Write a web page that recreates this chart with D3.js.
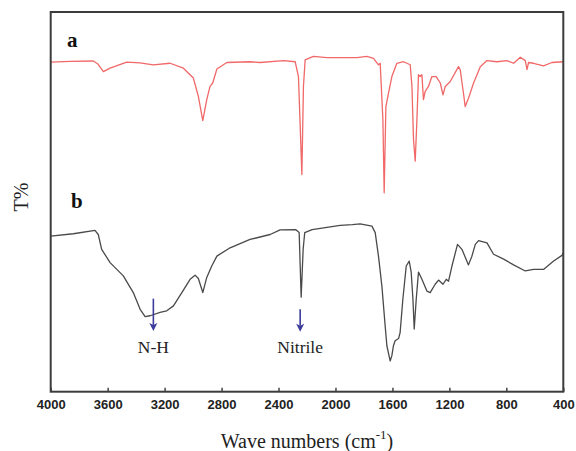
<!DOCTYPE html>
<html>
<head>
<meta charset="utf-8">
<style>
  body { margin: 0; background: #fff; }
</style>
</head>
<body>
<svg id="svg"></svg>
<script src="https://d3js.org/d3.v7.min.js"></script>
<script>
  // spectrum a (red): [wavenumber, T]
  var specA = [
    [4000, 86.8], [3864, 87.0], [3701, 87.1], [3668, 86.3], [3630, 84.3], [3583, 85.2],
    [3466, 86.8], [3373, 86.6], [3279, 86.1], [3162, 86.5], [3068, 85.2], [2998, 82.6],
    [2963, 77.8], [2932, 71.4], [2904, 76.9], [2881, 80.4], [2862, 81.3], [2833, 85.0],
    [2763, 86.7], [2600, 86.9], [2529, 86.7], [2365, 87.2], [2283, 86.9], [2260, 83.0],
    [2236, 57.2], [2225, 80.4], [2213, 87.4], [2155, 88.3], [2061, 88.0], [1850, 88.0],
    [1780, 88.3], [1733, 87.8], [1698, 86.1], [1686, 86.5], [1667, 71.6], [1658, 52.4],
    [1646, 75.1], [1628, 78.6], [1604, 83.0], [1569, 86.5], [1522, 86.9], [1475, 86.1],
    [1463, 80.4], [1452, 66.4], [1440, 60.7], [1428, 71.6], [1417, 83.5], [1405, 83.0],
    [1393, 83.5], [1382, 76.9], [1370, 79.1], [1347, 80.4], [1323, 83.0], [1293, 83.0],
    [1264, 81.3], [1245, 78.2], [1229, 80.4], [1194, 81.7], [1136, 85.6], [1124, 84.8],
    [1101, 78.6], [1089, 75.1], [1066, 77.3], [1030, 81.3], [983, 85.6], [936, 87.2],
    [866, 86.9], [796, 87.2], [749, 86.5], [702, 88.1], [667, 87.2], [655, 84.8],
    [644, 86.7], [609, 86.5], [539, 85.8], [480, 86.7], [400, 86.9]
  ];

  // spectrum b (gray)
  var specB = [
    [4000, 41.0], [3841, 41.6], [3689, 42.5], [3666, 41.4], [3642, 37.5], [3583, 34.0],
    [3490, 30.5], [3420, 26.1], [3372, 21.7], [3337, 19.8], [3302, 20.0], [3232, 20.9],
    [3185, 21.3], [3138, 22.6], [3079, 26.1], [3021, 29.6], [2986, 30.7], [2963, 29.8],
    [2939, 27.0], [2932, 26.1], [2904, 30.1], [2869, 33.1], [2833, 35.7], [2740, 37.9],
    [2600, 40.1], [2459, 41.4], [2389, 42.6], [2280, 42.7], [2255, 41.9], [2241, 24.9],
    [2227, 37.5], [2216, 41.9], [2164, 42.7], [1967, 43.8], [1881, 44.0], [1827, 44.2],
    [1744, 43.6], [1721, 41.9], [1698, 35.7], [1674, 27.8], [1651, 17.3], [1639, 12.1],
    [1616, 8.1], [1604, 9.5], [1593, 12.1], [1581, 13.4], [1557, 14.0], [1546, 15.6],
    [1527, 24.3], [1503, 33.1], [1482, 34.4], [1468, 31.4], [1456, 24.3], [1447, 16.5],
    [1433, 24.3], [1417, 31.5], [1393, 29.6], [1358, 26.5], [1335, 26.1], [1300, 28.3],
    [1276, 29.4], [1245, 28.3], [1222, 29.6], [1206, 29.1], [1182, 33.1], [1143, 38.8],
    [1112, 37.5], [1066, 33.4], [1042, 35.7], [1018, 38.8], [995, 39.8], [936, 39.2],
    [890, 36.2], [819, 34.9], [749, 33.4], [667, 31.8], [609, 32.2], [539, 32.2],
    [468, 34.4], [409, 35.9], [400, 36.6]
  ];

  var xTicks = [4000, 3600, 3200, 2800, 2400, 2000, 1600, 1200, 800, 400];

  // annotations: label, wavenumber, arrow top / tip (T units)
  var notes = [
    { label: "N-H", wn: 3279, top: 24.5, tip: 16.0 },
    { label: "Nitrile", wn: 2248, top: 21.7, tip: 15.8 }
  ];

  var width = 576,
    height = 451;
  var plotLeft = 50.7,
    plotRight = 563.3,
    plotTop = 12,
    plotBottom = 391.7;

  var svg = d3.select("#svg").attr("width", width).attr("height", height);

  var x = d3.scaleLinear().domain([4000, 400]).range([plotLeft, plotRight]);
  var y = d3.scaleLinear().domain([0, 100]).range([plotBottom, plotTop]);

  var line = d3
    .line()
    .x(function (d) { return x(d[0]); })
    .y(function (d) { return y(d[1]); });

  // spectra
  svg.append("path")
    .datum(specA)
    .attr("d", line)
    .attr("fill", "none")
    .attr("stroke", "#f06868")
    .attr("stroke-width", 1.3)
    .attr("stroke-linejoin", "round");

  svg.append("path")
    .datum(specB)
    .attr("d", line)
    .attr("fill", "none")
    .attr("stroke", "#4a4a4a")
    .attr("stroke-width", 1.3)
    .attr("stroke-linejoin", "round");

  // x axis, ticks pointing inward
  var xAxis = d3.axisBottom(x)
    .tickValues(xTicks)
    .tickFormat(d3.format("d"))
    .tickSizeInner(-4)
    .tickSizeOuter(0);
  var gx = svg.append("g")
    .attr("transform", "translate(0," + plotBottom + ")")
    .call(xAxis);
  gx.select(".domain").remove();
  gx.selectAll(".tick line").attr("stroke", "#444").attr("stroke-width", 1.5);
  gx.selectAll(".tick text")
    .attr("y", 17.3)
    .attr("dy", null)
    .attr("fill", "#222")
    .style("font-family", "Arial, 'Liberation Sans', sans-serif")
    .style("font-weight", "bold")
    .style("font-size", "13px");

  // frame
  svg.append("rect")
    .attr("x", plotLeft)
    .attr("y", plotTop)
    .attr("width", plotRight - plotLeft)
    .attr("height", plotBottom - plotTop)
    .attr("fill", "none")
    .attr("stroke", "#3c3c3c")
    .attr("stroke-width", 2);

  var serif = "'Times New Roman', 'Liberation Serif', serif";

  // panel letters
  svg.append("text").text("a")
    .attr("x", 67).attr("y", 47)
    .style("font-family", serif).style("font-weight", "bold").style("font-size", "21px")
    .attr("fill", "#111");
  svg.append("text").text("b")
    .attr("x", 71).attr("y", 208)
    .style("font-family", serif).style("font-weight", "bold").style("font-size", "21px")
    .attr("fill", "#111");

  // arrows and labels
  var ann = svg.selectAll(".note").data(notes).enter().append("g").attr("class", "note");
  ann.append("line")
    .attr("x1", function (d) { return x(d.wn); })
    .attr("x2", function (d) { return x(d.wn); })
    .attr("y1", function (d) { return y(d.top); })
    .attr("y2", function (d) { return y(d.tip) - 6; })
    .attr("stroke", "#3c3c9c")
    .attr("stroke-width", 1.6);
  ann.append("path")
    .attr("d", function (d) {
      var cx = x(d.wn), ty = y(d.tip);
      return "M" + (cx - 4) + "," + (ty - 8) + "L" + cx + "," + ty + "L" + (cx + 4) + "," + (ty - 8) + "L" + cx + "," + (ty - 6) + "Z";
    })
    .attr("fill", "#3c3c9c");
  ann.append("text")
    .text(function (d) { return d.label; })
    .attr("x", function (d) { return x(d.wn); })
    .attr("y", 352.5)
    .attr("text-anchor", "middle")
    .style("font-family", serif)
    .style("font-size", "17.5px")
    .attr("fill", "#222");

  // axis titles
  var xt = svg.append("text")
    .attr("x", (plotLeft + plotRight) / 2)
    .attr("y", 447.5)
    .attr("text-anchor", "middle")
    .style("font-family", serif)
    .style("font-size", "20px")
    .attr("fill", "#222");
  xt.append("tspan").text("Wave numbers (cm");
  xt.append("tspan").text("-1").attr("dy", -9).style("font-size", "13px");
  xt.append("tspan").text(")").attr("dy", 9);

  svg.append("text")
    .text("T%")
    .attr("transform", "translate(28,197) rotate(-90)")
    .attr("text-anchor", "middle")
    .style("font-family", serif)
    .style("font-size", "20px")
    .attr("fill", "#222");
</script>
</body>
</html>
